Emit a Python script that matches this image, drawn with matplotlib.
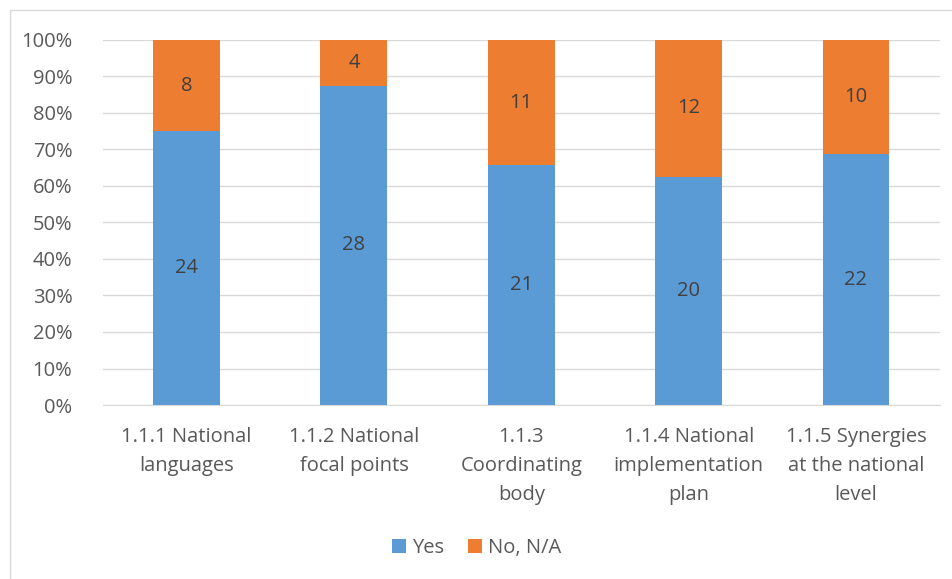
import numpy as np
import matplotlib.pyplot as plt
from matplotlib.patches import Rectangle

plt.rcParams['font.family'] = ['Open Sans', 'DejaVu Sans']

# データ
categories = ['1.1.1 National\nlanguages', '1.1.2 National\nfocal points', '1.1.3\nCoordinating\nbody',
              '1.1.4 National\nimplementation\nplan', '1.1.5 Synergies\nat the national\nlevel']
yes_counts = np.array([24, 28, 21, 20, 22])
no_counts = np.array([8, 4, 11, 12, 10])

blue = '#5B9BD5'
orange = '#ED7D31'
txt = '#595959'
fs = 14.5

totals = yes_counts + no_counts
yes_pct = yes_counts / totals
no_pct = no_counts / totals

fig = plt.figure(figsize=(9.53, 5.79), dpi=100)
ax = fig.add_axes([0.108, 0.3005, 0.878, 0.6305])

x = np.arange(len(categories))
ax.bar(x, yes_pct, width=0.4, color=blue, label='Yes', zorder=3)
ax.bar(x, no_pct, width=0.4, bottom=yes_pct, color=orange, label='No, N/A', zorder=3)

for i in range(len(x)):
    ax.text(x[i], yes_pct[i] / 2, str(yes_counts[i]), ha='center', va='center',
            fontsize=fs, color='#404040', zorder=4)
    ax.text(x[i], yes_pct[i] + no_pct[i] / 2, str(no_counts[i]), ha='center', va='center',
            fontsize=fs, color='#404040', zorder=4)

ax.set_xlim(-0.5, len(x) - 0.5)
ax.set_ylim(0, 1)
ax.set_yticks(np.arange(0, 1.01, 0.1))
ax.set_yticklabels([f'{int(round(v * 100))}%' for v in np.arange(0, 1.01, 0.1)])
ax.set_xticks(x)
ax.set_xticklabels(categories, linespacing=1.6)
ax.tick_params(axis='both', length=0, labelsize=fs, colors=txt)
ax.tick_params(axis='y', pad=22)
ax.tick_params(axis='x', pad=16)
ax.grid(axis='y', color='#D9D9D9', linewidth=1, zorder=0)
for s in ['top', 'right', 'left']:
    ax.spines[s].set_visible(False)
ax.spines['bottom'].set_color('#D9D9D9')

leg = fig.legend(loc='center', bbox_to_anchor=(0.5, 0.053), ncol=2, frameon=False,
                 fontsize=fs, handlelength=0.7, handleheight=0.7, handletextpad=0.3,
                 columnspacing=1.2)
for t in leg.get_texts():
    t.set_color(txt)

fig.patches.append(Rectangle((0.011, -0.01), 1.0, 0.993, transform=fig.transFigure,
                             fill=False, edgecolor='#D9D9D9', linewidth=1))

fig.savefig('out.png', dpi=100)
